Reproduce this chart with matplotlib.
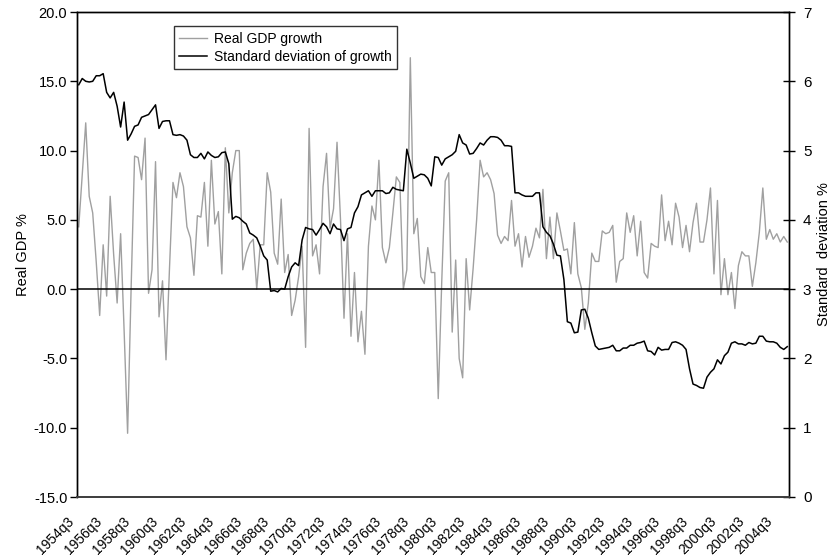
import matplotlib
matplotlib.use("Agg")
import matplotlib.pyplot as plt
import matplotlib.transforms as mtransforms
import numpy as np

plt.rcParams['font.family'] = ['Liberation Sans', 'DejaVu Sans']
plt.rcParams['axes.unicode_minus'] = False

# Quarters 1954q3 .. 2005q2
start_year, start_q, n_quarters = 1954, 3, 204
quarters = []
y, q = start_year, start_q
for _ in range(n_quarters):
    quarters.append(f"{y}q{q}")
    q += 1
    if q > 4:
        q = 1
        y += 1

gdp_growth = [
    4.5, 8.3, 12.0, 6.7, 5.5, 2.0, -1.9, 3.2, -0.5, 6.7,
    2.5, -1.0, 4.0, -3.0, -10.4, 0.0, 9.6, 9.5, 7.9, 10.9,
    -0.3, 1.4, 9.2, -2.0, 0.6, -5.1, 1.5, 7.7, 6.6, 8.4,
    7.4, 4.5, 3.7, 1.0, 5.3, 5.2, 7.7, 3.1, 9.3, 4.7,
    5.6, 1.1, 10.2, 5.5, 8.4, 10.0, 10.0, 1.4, 2.6, 3.3,
    3.6, 0.0, 3.2, 3.2, 8.4, 7.0, 2.6, 1.8, 6.5, 1.2,
    2.5, -1.9, -0.8, 0.9, 3.1, -4.2, 11.6, 2.4, 3.2, 1.1,
    7.4, 9.8, 4.4, 5.8, 10.6, 5.0, -2.1, 4.0, -3.4, 1.2,
    -3.8, -1.6, -4.7, 3.1, 6.0, 5.0, 9.3, 3.0, 1.9, 3.0,
    5.5, 8.1, 7.7, 0.0, 1.4, 16.7, 4.0, 5.1, 0.9, 0.4,
    3.0, 1.2, 1.2, -7.9, 0.5, 7.8, 8.4, -3.1, 2.1, -5.0,
    -6.4, 2.2, -1.5, 1.5, 5.0, 9.3, 8.1, 8.4, 7.9, 6.9,
    3.9, 3.3, 3.8, 3.5, 6.4, 3.1, 4.0, 1.6, 3.8, 2.3,
    3.1, 4.4, 3.7, 7.2, 2.2, 5.2, 2.2, 5.5, 4.2, 2.8,
    2.9, 1.1, 4.8, 1.1, 0.1, -2.9, -1.0, 2.6, 2.0, 2.0,
    4.2, 4.0, 4.1, 4.6, 0.5, 2.0, 2.2, 5.5, 4.1, 5.3,
    2.4, 4.9, 1.2, 0.8, 3.3, 3.1, 3.0, 6.8, 3.5, 4.9,
    3.2, 6.2, 5.2, 3.0, 4.6, 2.7, 4.8, 6.2, 3.4, 3.4,
    5.0, 7.3, 1.1, 6.4, -0.4, 2.2, -0.4, 1.2, -1.4, 1.7,
    2.7, 2.4, 2.4, 0.2, 1.9, 4.1, 7.3, 3.6, 4.3, 3.6,
    4.0, 3.4, 3.8, 3.4,
]

sd_growth = [
    5.95, 6.04, 6.00, 5.99, 6.00, 6.08, 6.08, 6.11, 5.84, 5.76,
    5.84, 5.64, 5.34, 5.70, 5.15, 5.24, 5.35, 5.37, 5.48, 5.50,
    5.52, 5.59, 5.66, 5.32, 5.42, 5.43, 5.43, 5.23, 5.22, 5.23,
    5.21, 5.15, 4.94, 4.90, 4.90, 4.96, 4.88, 4.98, 4.93, 4.90,
    4.91, 4.97, 4.98, 4.81, 4.01, 4.05, 4.03, 3.98, 3.94, 3.81,
    3.78, 3.74, 3.62, 3.48, 3.42, 2.97, 2.98, 2.96, 3.01, 3.00,
    3.18, 3.32, 3.38, 3.34, 3.71, 3.89, 3.87, 3.86, 3.78, 3.86,
    3.95, 3.90, 3.80, 3.94, 3.87, 3.86, 3.70, 3.87, 3.89, 4.10,
    4.19, 4.36, 4.39, 4.42, 4.34, 4.42, 4.42, 4.42, 4.38, 4.39,
    4.47, 4.44, 4.43, 4.42, 5.02, 4.82, 4.60, 4.63, 4.66, 4.65,
    4.60, 4.49, 4.91, 4.90, 4.79, 4.88, 4.91, 4.94, 4.99, 5.23,
    5.11, 5.08, 4.95, 4.96, 5.03, 5.11, 5.08, 5.15, 5.20, 5.20,
    5.19, 5.15, 5.07, 5.07, 5.06, 4.39, 4.39, 4.36, 4.34, 4.34,
    4.34, 4.39, 4.39, 3.90, 3.82, 3.77, 3.65, 3.49, 3.48, 3.14,
    2.53, 2.51, 2.37, 2.38, 2.70, 2.71, 2.58, 2.37, 2.18, 2.13,
    2.14, 2.15, 2.16, 2.19, 2.11, 2.11, 2.15, 2.15, 2.19, 2.19,
    2.22, 2.23, 2.25, 2.11, 2.10, 2.05, 2.16, 2.12, 2.13, 2.13,
    2.23, 2.24, 2.22, 2.19, 2.13, 1.85, 1.63, 1.61, 1.58, 1.57,
    1.73, 1.80, 1.85, 1.98, 1.92, 2.04, 2.09, 2.22, 2.24, 2.21,
    2.21, 2.19, 2.23, 2.21, 2.22, 2.32, 2.32, 2.25, 2.24, 2.24,
    2.22, 2.16, 2.13, 2.17,
]

left_ticks = [-15, -10, -5, 0, 5, 10, 15, 20]
right_ticks = [0, 1, 2, 3, 4, 5, 6, 7]
label_step = 8

x = np.arange(len(quarters))

fig = plt.figure(figsize=(8.33, 5.59), dpi=100)
ax = fig.add_axes([77/833, 1-497/559, 712/833, 485/559])
ax2 = ax.twinx()

l1, = ax.plot(x, gdp_growth, color='#a0a0a0', lw=1.0, label='Real GDP growth', zorder=2)
ax.axhline(0, color='black', lw=1.1, zorder=3)
l2, = ax2.plot(x, sd_growth, color='black', lw=1.1, label='Standard deviation of growth')

ax.set_xlim(-0.5, len(quarters) - 0.5)
ax.set_ylim(-15, 20)
ax.set_yticks(left_ticks)
ax.set_yticklabels([f"{v:.1f}" for v in left_ticks], fontsize=10.5)
ax2.set_ylim(0, 7)
ax2.set_yticks(right_ticks)
ax2.set_yticklabels([str(v) for v in right_ticks], fontsize=11)

ticks = x[::label_step]
ax.set_xticks(ticks)
ax.set_xticklabels([quarters[i] for i in ticks], rotation=45, ha='right',
                   va='center', rotation_mode='anchor', fontsize=10)
ax.tick_params(axis='x', length=0, pad=16)
off = mtransforms.ScaledTranslation(-7/100, 0, fig.dpi_scale_trans)
for lab in ax.get_xticklabels():
    lab.set_transform(lab.get_transform() + off)

ax.tick_params(axis='y', direction='out', length=5, width=1, pad=2)
ax2.tick_params(axis='y', direction='inout', length=8, width=1, pad=6)

for a in (ax, ax2):
    for s in a.spines.values():
        s.set_color('black')
        s.set_linewidth(1.0)
    a.spines['bottom'].set_color('#404040')
    a.spines['bottom'].set_linewidth(1.3)

ax.set_ylabel('Real GDP %', fontsize=10.5, labelpad=3)
ax2.set_ylabel('Standard  deviation %', fontsize=10.5, labelpad=4)

leg = ax.legend(handles=[l1, l2], loc='upper left', bbox_to_anchor=(0.136, 0.971),
                borderaxespad=0, frameon=True, fancybox=False, fontsize=10,
                handlelength=2.0, handletextpad=0.5, labelspacing=0.3, borderpad=0.4)
leg.get_frame().set_edgecolor('black')
leg.get_frame().set_linewidth(1.0)
leg.set_zorder(10)

fig.savefig('out.png', dpi=100)
